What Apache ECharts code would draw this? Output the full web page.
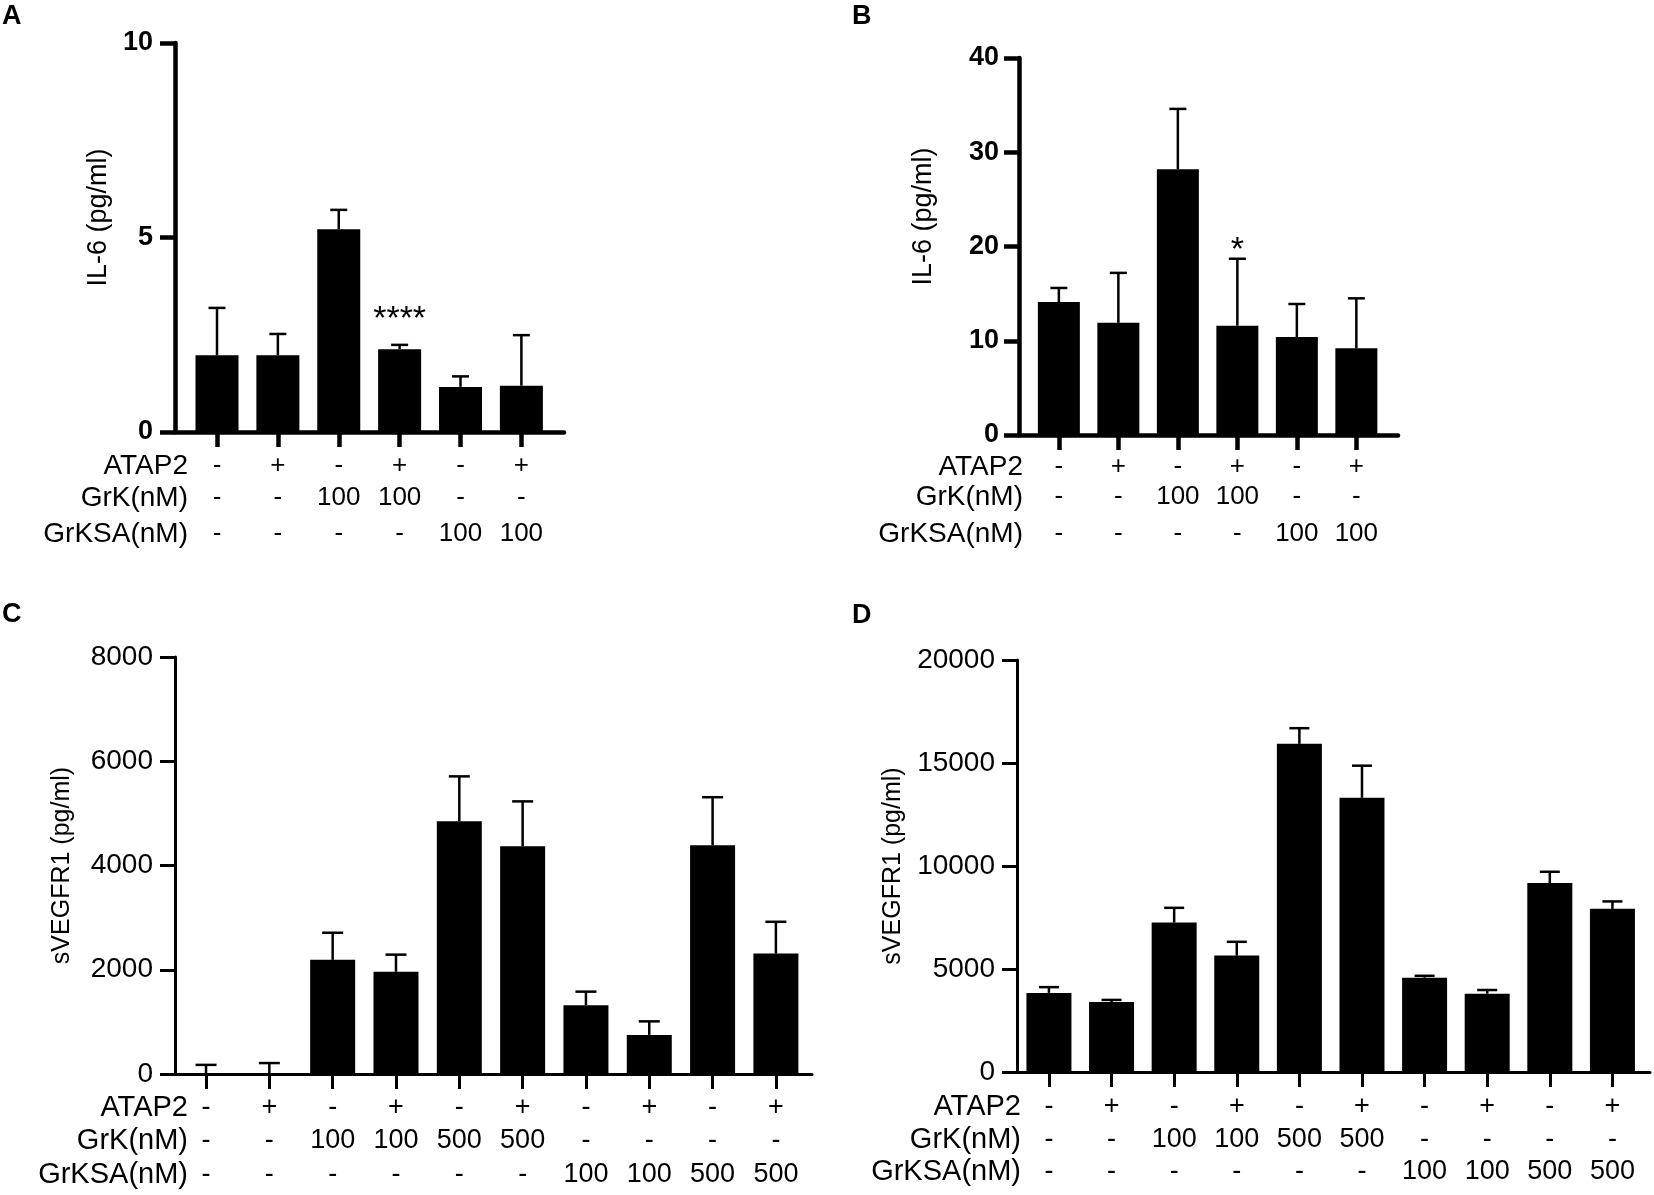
<!DOCTYPE html>
<html lang="en">
<head>
<meta charset="UTF-8">
<script src="https://cdn.jsdelivr.net/npm/echarts@6/dist/echarts.min.js"></script>
<title>IL-6 and sVEGFR1</title>
<style>
  html, body { margin: 0; padding: 0; background: #fff; }
  #chart { width: 1654px; height: 1195px; }
</style>
</head>
<body>
<div id="chart"></div>
<script>
// ---- data ----
const rowNames = ['ATAP2', 'GrK(nM)', 'GrKSA(nM)'];

// panels A and B: 6 groups
const atap6 = ['-', '+', '-', '+', '-', '+'];
const grk6 = ['-', '-', '100', '100', '-', '-'];
const grksa6 = ['-', '-', '-', '-', '100', '100'];

// panels C and D: 10 groups
const atap10 = ['-', '+', '-', '+', '-', '+', '-', '+', '-', '+'];
const grk10 = ['-', '-', '100', '100', '500', '500', '-', '-', '-', '-'];
const grksa10 = ['-', '-', '-', '-', '-', '-', '100', '100', '500', '500'];

const il6A = [1.97, 1.97, 5.21, 2.13, 1.16, 1.19];
const il6AErr = [1.22, 0.55, 0.50, 0.11, 0.27, 1.30];
const il6ASig = ['', '', '', '****', '', ''];

const il6B = [14.1, 11.9, 28.2, 11.6, 10.4, 9.2];
const il6BErr = [1.5, 5.3, 6.4, 7.1, 3.5, 5.3];
const il6BSig = ['', '', '', '*', '', ''];

const vegfC = [0, 0, 2190, 1960, 4850, 4370, 1320, 750, 4390, 2310];
const vegfCErr = [175, 210, 520, 330, 860, 860, 260, 260, 920, 610];

const vegfD = [3840, 3400, 7260, 5650, 15930, 13310, 4580, 3800, 9170, 7920];
const vegfDErr = [280, 100, 710, 670, 760, 1560, 90, 180, 550, 360];

// ---- layout ----
const FONT = "'Liberation Sans', Arial, Helvetica, sans-serif";
const INK = '#000';

const panels = [
  { letter: 'A', lx: 2, ly: 3, yName: 'IL-6 (pg/ml)', mean: il6A, err: il6AErr, sig: il6ASig,
    rows: [atap6, grk6, grksa6], yMax: 10, yStep: 5,
    left: 175, top: 43, width: 389, height: 389, xmin: -0.69, xmax: 5.70,
    lineW: 4.5, bold: true, tickSize: 27, labelMargin: 22,
    nameGap: 63, nameSize: 27, nameLift: 40,
    rowOff: [34, 66, 102], headX: 188, headSize: 28, cellSize: 26,
    barW: 43, capW: 17, starGap: 25 },
  { letter: 'B', lx: 852, ly: 3, yName: 'IL-6 (pg/ml)', mean: il6B, err: il6BErr, sig: il6BSig,
    rows: [atap6, grk6, grksa6], yMax: 40, yStep: 10,
    left: 1019, top: 58, width: 379, height: 377, xmin: -0.67, xmax: 5.70,
    lineW: 4.5, bold: true, tickSize: 27, labelMargin: 20,
    nameGap: 82, nameSize: 27, nameLift: 60,
    rowOff: [32, 62, 99], headX: 1023, headSize: 28, cellSize: 26,
    barW: 42, capW: 17, starGap: 8 },
  { letter: 'C', lx: 2, ly: 601, yName: 'sVEGFR1 (pg/ml)', mean: vegfC, err: vegfCErr, sig: null,
    rows: [atap10, grk10, grksa10], yMax: 8000, yStep: 2000,
    left: 175, top: 657, width: 637, height: 417, xmin: -0.49, xmax: 9.57,
    lineW: 3, bold: false, tickSize: 28, labelMargin: 22,
    nameGap: 100, nameSize: 25, nameLift: 0,
    rowOff: [34, 67, 101], headX: 188, headSize: 29, cellSize: 27,
    barW: 45, capW: 21, starGap: 0 },
  { letter: 'D', lx: 852, ly: 602, yName: 'sVEGFR1 (pg/ml)', mean: vegfD, err: vegfDErr, sig: null,
    rows: [atap10, grk10, grksa10], yMax: 20000, yStep: 5000,
    left: 1017, top: 660, width: 633, height: 412, xmin: -0.51, xmax: 9.60,
    lineW: 3, bold: false, tickSize: 28, labelMargin: 22,
    nameGap: 111, nameSize: 25, nameLift: 0,
    rowOff: [35, 68, 100], headX: 1021, headSize: 29, cellSize: 27,
    barW: 45, capW: 20, starGap: 0 }
];

const grid = [], xAxis = [], yAxis = [], series = [], graphic = [];

panels.forEach(function (p, gi) {
  const idx = p.mean.map(function (_, i) { return i; });
  grid.push({ left: p.left, top: p.top, width: p.width, height: p.height,
              containLabel: false, outerBoundsMode: 'none' });

  // main x axis: line and ticks at each group
  const mainX = xAxis.length;
  xAxis.push({
    type: 'value', gridIndex: gi, min: p.xmin, max: p.xmax, position: 'bottom',
    axisLine: { show: true, onZero: false, lineStyle: { color: INK, width: p.lineW } },
    axisTick: { show: true, customValues: idx, inside: false, length: 15,
                lineStyle: { color: INK, width: p.lineW } },
    axisLabel: { show: false }, splitLine: { show: false }
  });
  // treatment table rows, each as an offset axis carrying only labels
  p.rows.forEach(function (row, ri) {
    xAxis.push({
      type: 'value', gridIndex: gi, min: p.xmin, max: p.xmax, position: 'bottom',
      offset: p.rowOff[ri],
      axisLine: { show: false, onZero: false }, axisTick: { show: false }, splitLine: { show: false },
      axisLabel: {
        show: true, customValues: idx, margin: 0, verticalAlign: 'middle',
        fontFamily: FONT, fontSize: p.cellSize, color: INK,
        formatter: function (v) { return row[Math.round(v)]; }
      }
    });
    graphic.push({ type: 'text', x: p.headX, y: p.top + p.height + p.rowOff[ri],
      style: { text: rowNames[ri], fontFamily: FONT, fontSize: p.headSize, fill: INK,
               align: 'right', verticalAlign: 'middle' } });
  });

  yAxis.push({
    type: 'value', gridIndex: gi, min: 0, max: p.yMax, interval: p.yStep,
    name: p.yName, nameLocation: 'middle', nameRotate: 90, nameGap: p.nameGap,
    nameMoveOverlap: false,
    nameTextStyle: { fontFamily: FONT, fontSize: p.nameSize, color: INK,
                     padding: [0, 0, 0, p.nameLift] },
    axisLine: { show: true, onZero: false, lineStyle: { color: INK, width: p.lineW } },
    axisTick: { show: true, length: 15, lineStyle: { color: INK, width: p.lineW } },
    axisLabel: { margin: p.labelMargin, fontFamily: FONT, fontSize: p.tickSize, color: INK,
                 fontWeight: p.bold ? 'bold' : 'normal',
                 formatter: function (v) { return String(v); } },
    splitLine: { show: false }
  });

  series.push({
    type: 'bar', xAxisIndex: mainX, yAxisIndex: gi, barWidth: p.barW,
    itemStyle: { color: INK }, silent: true, animation: false,
    data: p.mean.map(function (v, i) { return [i, v]; })
  });

  series.push({
    type: 'custom', xAxisIndex: mainX, yAxisIndex: gi, silent: true, animation: false, z: 3,
    data: p.mean.map(function (v, i) { return [i, v, p.err[i]]; }),
    renderItem: function (params, api) {
      const x = api.value(0), m = api.value(1), e = api.value(2);
      const a = api.coord([x, m]);
      const b = api.coord([x, m + e]);
      const st = { stroke: INK, lineWidth: 2.5 };
      const kids = [
        { type: 'line', shape: { x1: a[0], y1: a[1], x2: b[0], y2: b[1] }, style: st },
        { type: 'line', shape: { x1: b[0] - p.capW / 2, y1: b[1], x2: b[0] + p.capW / 2, y2: b[1] }, style: st }
      ];
      const s = p.sig ? p.sig[params.dataIndex] : '';
      if (s) {
        kids.push({ type: 'text', x: b[0], y: b[1] - p.starGap,
          style: { text: s, fontFamily: FONT, fontSize: 34, fill: INK, align: 'center', verticalAlign: 'middle' } });
      }
      return { type: 'group', children: kids };
    }
  });

  graphic.push({ type: 'text', left: p.lx, top: p.ly,
    style: { text: p.letter, fontFamily: FONT, fontSize: 27, fontWeight: 'bold', fill: INK } });
});

const chart = echarts.init(document.getElementById('chart'), null, { renderer: 'canvas' });
chart.setOption({
  animation: false,
  backgroundColor: '#fff',
  grid: grid, xAxis: xAxis, yAxis: yAxis, series: series, graphic: graphic
});
</script>
</body>
</html>
